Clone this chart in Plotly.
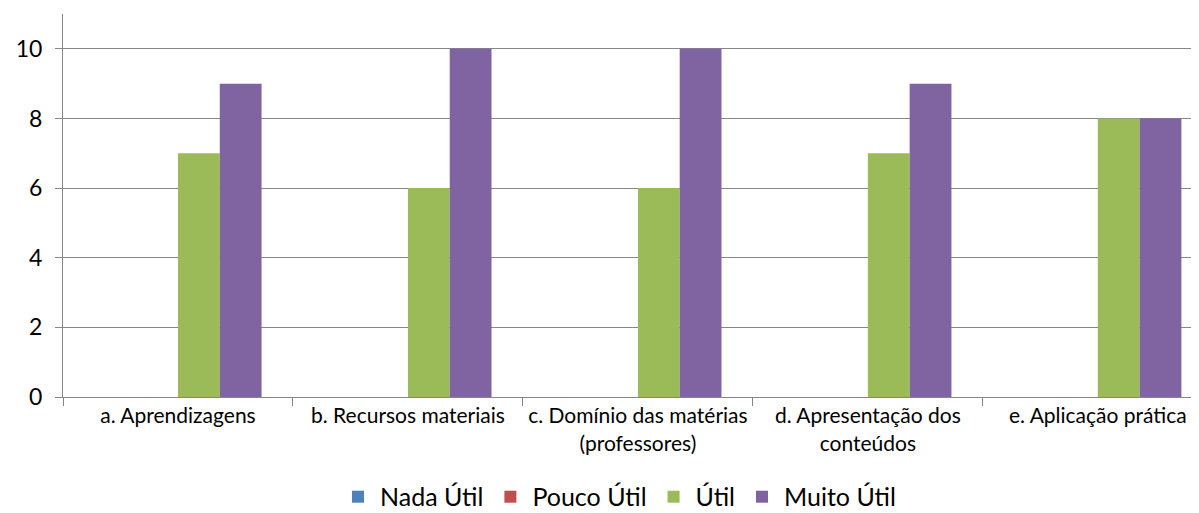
import plotly.graph_objects as go

categorias = [
    "a. Aprendizagens",
    "b. Recursos materiais",
    "c. Domínio das matérias<br>(professores)",
    "d. Apresentação dos<br>conteúdos",
    "e. Aplicação prática",
]
nada_util = [0, 0, 0, 0, 0]
pouco_util = [0, 0, 0, 0, 0]
util = [7, 6, 6, 7, 8]
muito_util = [9, 10, 10, 9, 8]

series = [
    ("Nada Útil", nada_util, "#4F81BD"),
    ("Pouco Útil", pouco_util, "#C0504D"),
    ("Útil", util, "#9BBB59"),
    ("Muito Útil", muito_util, "#8064A2"),
]

fig = go.Figure()
for nome, valores, cor in series:
    fig.add_bar(x=categorias, y=valores, name=nome, marker_color=cor,
                marker_line_width=0)

# a página tem margem de 8px no body, por isso a figura fica deslocada
fig.update_layout(
    width=1191, height=505,
    margin=dict(l=55, r=0, t=6, b=116, autoexpand=False),
    barmode="group", bargap=0.273, bargroupgap=0,
    paper_bgcolor="white", plot_bgcolor="white",
    font=dict(family="Lato, Open Sans, sans-serif", color="#000000"),
    legend=dict(orientation="h", xanchor="center", x=0.489, yanchor="middle", y=-0.261,
                font=dict(size=25), itemwidth=34, traceorder="normal"),
    showlegend=True,
)
fig.update_xaxes(
    range=[-0.5, 4.44], showline=True, linecolor="#868686", linewidth=1,
    ticks="outside", tickson="boundaries", ticklen=8, tickcolor="#868686",
    tickfont=dict(size=21), showgrid=False, automargin=False,
)
fig.update_yaxes(
    range=[0, 11], tickvals=[0, 2, 4, 6, 8, 10], showline=True, linecolor="#868686",
    linewidth=1, ticks="outside", ticklen=7, tickcolor="#868686",
    showgrid=True, gridcolor="#868686", gridwidth=1, tickfont=dict(size=23),
    zeroline=False, automargin=False, ticklabelstandoff=8,
)

fig.write_html("out.html")
